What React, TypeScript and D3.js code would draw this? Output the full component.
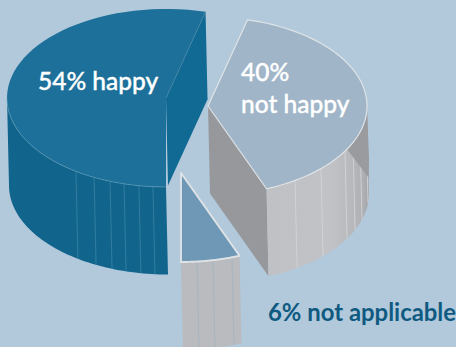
import React from "react";
import * as d3 from "d3";

// Share of respondents per answer, as drawn on the exploded 3-D pie.
const answers = ["happy", "not happy", "not applicable"];
const shares = [54, 40, 6];
// Seams on each slice's outer wall, in degrees clockwise from twelve o'clock.
const happySeams = [214.5, 206.9, 200.6, 195.3, 189.8, 184.7];
const notHappySeams = [146.8, 134.7, 120.5, 114.2, 107.1, 96.3];
const notApplicableSeams = [174.2, 168.4, 161.3];
const seamSets = [happySeams, notHappySeams, notApplicableSeams];

const W = 456;
const H = 347;
const BG = "#b2c9dc";

// Ellipse that the pie disc projects onto, and the extrusion of its wall.
const RX = 159;
const RY = 89;
const CX = 166;
const CY = 98;
const DEPTH_X = 2;
const DEPTH_Y = 87.5;

const sliceStyles = [
  { dx: 0, dy: 0, top: "#1d7099", wall: "#11658c", cut: "#116a93", seam: "#3f86a8", seamW: 0.7 },
  { dx: 42, dy: 8, top: "#a0b5c8", wall: "url(#greyWall)", cut: "#97989c", seam: "#d2d4d6", seamW: 0.9 },
  { dx: 15, dy: 75, top: "#6e98b5", wall: "#b9bbbe", cut: "#97989c", seam: "#a6b5c1", seamW: 1 },
];

// Start the pie at six o'clock so the largest slice sweeps over the left side.
const pie = d3
  .pie<number>()
  .sort(null)
  .startAngle(Math.PI)
  .endAngle(3 * Math.PI);
const arcs = pie(shares);

const project = (angle: number, dx: number, dy: number): [number, number] => [
  CX + dx + RX * Math.sin(angle),
  CY + dy - RY * Math.cos(angle),
];

const rad = (deg: number) => (deg * Math.PI) / 180;

// Sample an elliptical arc between two pie angles.
const arcPoints = (a0: number, a1: number, dx: number, dy: number): [number, number][] =>
  d3.range(0, 61).map((i) => project(a0 + ((a1 - a0) * i) / 60, dx, dy));

const line = d3.line();

// The part of an arc whose outer wall faces the viewer.
const wallSpan = (start: number, end: number): [number, number] | null => {
  for (const shift of [0, 2 * Math.PI]) {
    const s = Math.max(start, Math.PI / 2 + shift);
    const e = Math.min(end, (3 * Math.PI) / 2 + shift);
    if (e > s) return [s, e];
  }
  return null;
};

const Slice = ({ index }: { index: number }) => {
  const { startAngle, endAngle } = arcs[index];
  const st = sliceStyles[index];
  const { dx, dy } = st;
  const apex: [number, number] = [CX + dx, CY + dy];
  const apexLow: [number, number] = [apex[0] + DEPTH_X, apex[1] + DEPTH_Y];
  const rim = arcPoints(startAngle, endAngle, dx, dy);
  const topPath = line([apex, ...rim])! + "Z";
  const span = wallSpan(startAngle, endAngle);
  const wallPath = span
    ? line([
        ...arcPoints(span[0], span[1], dx, dy),
        ...arcPoints(span[1], span[0], dx + DEPTH_X, dy + DEPTH_Y),
      ])! + "Z"
    : null;
  // Inner cut face seen through the gap, along the slice's closing edge.
  const cutPath =
    index < 2
      ? line([
          apex,
          project(endAngle, dx, dy),
          project(endAngle, dx + DEPTH_X, dy + DEPTH_Y),
          apexLow,
        ])! + "Z"
      : null;
  // Shadow the disc casts across the upper right of the grey wall, tapering downwards.
  const shadowPath =
    index === 1
      ? line([
          ...arcPoints(rad(90), rad(119), dx, dy),
          project(rad(94), dx + DEPTH_X, dy + DEPTH_Y * 0.75),
          project(rad(90), dx + DEPTH_X, dy + DEPTH_Y * 0.6),
        ])! + "Z"
      : null;
  return (
    <g>
      {cutPath && <path d={cutPath} fill={st.cut} />}
      {wallPath && <path d={wallPath} fill={st.wall} />}
      {seamSets[index].map((deg) => {
        const a = rad(deg);
        const p0 = project(a, dx, dy);
        const p1 = project(a, dx + DEPTH_X, dy + DEPTH_Y);
        return (
          <line
            key={deg}
            x1={p0[0]}
            y1={p0[1]}
            x2={p1[0]}
            y2={p1[1]}
            stroke={st.seam}
            strokeWidth={st.seamW}
          />
        );
      })}
      {shadowPath && <path d={shadowPath} fill="#9a9b9f" />}
      {index === 0 && (
        <>
          <path d={topPath} fill={st.top} />
          {/* Faint highlights on the front rim and the radial fold. */}
          <path
            d={line(arcPoints(rad(180), rad(270), dx, dy))!}
            fill="none"
            stroke="#5f9dbb"
            strokeWidth={0.6}
          />
          <path d={line([apex, rim[rim.length - 1]])!} fill="none" stroke="#4b8cab" strokeWidth={0.6} />
        </>
      )}
      {index === 1 && (
        <path d={topPath} fill={st.top} stroke="#dfe3e6" strokeWidth={1.2} strokeLinejoin="round" />
      )}
      {index === 2 && (
        <path d={topPath} fill={st.top} stroke="#dfe3e6" strokeWidth={1.9} strokeLinejoin="round" />
      )}
    </g>
  );
};

export default function App() {
  const font = "Lato, 'Open Sans', sans-serif";
  const white = { fill: "#fff", stroke: "#fff", strokeWidth: 0.35, fontFamily: font, fontSize: 24.5, fontWeight: 500 };
  return (
    <svg
      width={W}
      height={H}
      viewBox={`0 0 ${W} ${H}`}
      style={{ position: "fixed", left: 0, top: 0, display: "block" }}
    >
      <defs>
        <linearGradient id="greyWall" gradientUnits="userSpaceOnUse" x1={270} x2={371} y1={0} y2={0}>
          <stop offset="0" stopColor="#bfc1c4" />
          <stop offset="0.6" stopColor="#c1c2c5" />
          <stop offset="0.8" stopColor="#b8b9bc" />
          <stop offset="0.93" stopColor="#aeafb3" />
          <stop offset="1" stopColor="#9c9da1" />
        </linearGradient>
      </defs>
      <rect width={W} height={H} fill={BG} />
      {/* Back to front: the not-happy slice, the happy slice, then the small wedge. */}
      <Slice index={1} />
      <Slice index={0} />
      <Slice index={2} />
      <text x={38} y={90} {...white}>
        {`${shares[0]}% ${answers[0]}`}
      </text>
      <text x={241} y={81} {...white}>
        {`${shares[1]}%`}
      </text>
      <text x={241} y={113} {...white}>
        {answers[1]}
      </text>
      <text x={268} y={321} fill="#0f5a80" fontFamily={font} fontSize={23.9} fontWeight={700}>
        {`${shares[2]}% ${answers[2]}`}
      </text>
    </svg>
  );
}
